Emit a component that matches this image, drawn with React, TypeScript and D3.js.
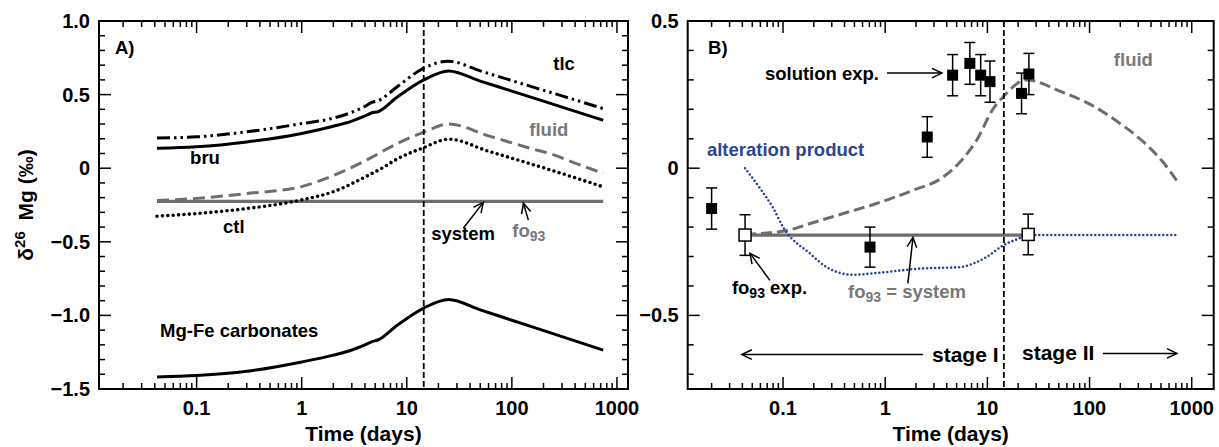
import React from "react";
import * as d3 from "d3";

const FONT = "'Liberation Sans', Arial, Helvetica, sans-serif";
const GREY = "#6e6e6e";
const GREY_TEXT = "#787878";
const BLUE = "#2b4592";

// ---------- axes ----------
const xDomainA = [0.01178, 1274];
const yDomainA = [-1.5, 1.0];
const xDomainB = [0.01167, 1641];
const yDomainB = [-0.75, 0.5];
const xTickValues = [0.1, 1, 10, 100, 1000];
const xTickLabels = ["0.1", "1", "10", "100", "1000"];
const yTicksA = [1.0, 0.5, 0, -0.5, -1.0, -1.5];
const yTickLabelsA = ["1.0", "0.5", "0", "\u22120.5", "\u22121.0", "\u22121.5"];
const yTicksB = [0.5, 0, -0.5];
const yTickLabelsB = ["0.5", "0", "\u22120.5"];
const stageBoundary = 14.5;

// ---------- panel A series (time in days, delta26Mg) ----------
const tlcT = [0.042, 0.1, 0.3, 1, 2, 3, 4, 4.6, 5.4, 8, 14.5, 25, 50, 100, 300, 740];
const tlcV = [0.205, 0.213, 0.247, 0.303, 0.34, 0.38, 0.42, 0.445, 0.46, 0.55, 0.68, 0.727, 0.661, 0.595, 0.491, 0.405];
const bruT = [0.042, 0.1, 0.3, 1, 2, 3, 4, 4.6, 5.4, 8, 14.5, 25, 50, 100, 300, 740];
const bruV = [0.135, 0.145, 0.178, 0.236, 0.285, 0.32, 0.355, 0.375, 0.385, 0.48, 0.6, 0.661, 0.592, 0.524, 0.415, 0.326];
const fluidAT = [0.042, 0.1, 0.3, 1, 2, 4, 8, 14.5, 25, 60, 150, 240, 400, 740];
const fluidAV = [-0.22, -0.205, -0.172, -0.125, -0.05, 0.05, 0.165, 0.245, 0.3, 0.22, 0.135, 0.095, 0.035, -0.035];
const ctlT = [0.042, 0.1, 0.3, 1, 2, 4, 5.8, 8, 14.5, 25, 60, 150, 400, 740];
const ctlV = [-0.326, -0.308, -0.274, -0.215, -0.16, -0.06, 0.0, 0.06, 0.14, 0.197, 0.115, 0.03, -0.065, -0.127];
const systemAT = [0.042, 740];
const systemAV = [-0.225, -0.225];
const carbT = [0.042, 0.1, 0.3, 1, 2, 3, 4, 4.6, 5.4, 8, 14.5, 25, 50, 100, 300, 740];
const carbV = [-1.418, -1.408, -1.38, -1.316, -1.27, -1.235, -1.2, -1.18, -1.165, -1.07, -0.95, -0.892, -0.962, -1.033, -1.144, -1.236];

// ---------- panel B series ----------
const fluidBT = [0.0425, 0.117, 0.184, 0.389, 0.82, 1.87, 3.7, 5.4, 7.85, 11.4, 14.3, 24.2, 51, 117, 184, 335, 525, 711];
const fluidBV = [-0.225, -0.209, -0.188, -0.154, -0.12, -0.075, -0.03, 0.021, 0.095, 0.202, 0.243, 0.3, 0.262, 0.205, 0.16, 0.09, 0.02, -0.041];
const altT = [0.0425, 0.06, 0.08, 0.1, 0.184, 0.267, 0.48, 0.82, 2.18, 5.4, 7.85, 10, 14.3, 20, 25, 711];
const altV = [0.0, -0.07, -0.135, -0.2, -0.29, -0.336, -0.362, -0.356, -0.341, -0.336, -0.319, -0.3, -0.262, -0.24, -0.227, -0.227];
const systemBT = [0.0425, 25];
const systemBV = [-0.227, -0.227];
const solT = [0.02, 0.71, 2.58, 4.57, 6.74, 8.6, 10.6, 21.6, 25.5];
const solV = [-0.137, -0.268, 0.106, 0.316, 0.356, 0.316, 0.294, 0.254, 0.32];
const solErr = [0.07, 0.068, 0.069, 0.07, 0.071, 0.07, 0.07, 0.069, 0.07];
const fo93T = [0.0425, 25.1];
const fo93V = [-0.227, -0.225];
const fo93Err = [0.069, 0.069];

const zip = (t: number[], v: number[]) => t.map((d, i) => [d, v[i]] as [number, number]);

const boxA = { left: 99, right: 628, top: 21, bottom: 389 };
const boxB = { left: 687.7, right: 1213.7, top: 21, bottom: 389 };

const xA = d3.scaleLog().domain(xDomainA).range([boxA.left, boxA.right]);
const yA = d3.scaleLinear().domain(yDomainA).range([boxA.bottom, boxA.top]);
const xB = d3.scaleLog().domain(xDomainB).range([boxB.left, boxB.right]);
const yB = d3.scaleLinear().domain(yDomainB).range([boxB.bottom, boxB.top]);

function mkLine(x: any, y: any) {
  return d3
    .line<[number, number]>()
    .x((d) => x(d[0]))
    .y((d) => y(d[1]))
    .curve(d3.curveMonotoneX);
}

function Arrow({ x1, y1, x2, y2, color = "#000" }: any) {
  const ang = Math.atan2(y2 - y1, x2 - x1);
  const L = 11, a = 0.45;
  const p1 = [x2 - L * Math.cos(ang - a), y2 - L * Math.sin(ang - a)];
  const p2 = [x2 - L * Math.cos(ang + a), y2 - L * Math.sin(ang + a)];
  return (
    <g stroke={color} strokeWidth={1.5} fill="none">
      <line x1={x1} y1={y1} x2={x2} y2={y2} />
      <polyline points={`${p1[0]},${p1[1]} ${x2},${y2} ${p2[0]},${p2[1]}`} />
    </g>
  );
}

function Axes({ x, y, box, yTicks, yLabels }: any) {
  const [d0, d1] = x.domain();
  const xt: { v: number; major: boolean }[] = [];
  for (let e = Math.floor(Math.log10(d0)); e <= Math.ceil(Math.log10(d1)); e++) {
    for (let k = 1; k <= 9; k++) {
      const v = k * Math.pow(10, e);
      if (v >= d0 && v <= d1) xt.push({ v, major: k === 1 });
    }
  }
  const [y0, y1] = y.domain();
  const yt: { v: number; major: boolean }[] = [];
  for (let i = Math.round(y0 * 10); i <= Math.round(y1 * 10); i++) {
    yt.push({ v: i / 10, major: i % 5 === 0 });
  }
  return (
    <g>
      <g stroke="#000" strokeWidth={1.5}>
        {xt.map((t, i) => {
          const px = x(t.v);
          const l = t.major ? 12 : 6;
          return (
            <g key={i}>
              <line x1={px} x2={px} y1={box.bottom} y2={box.bottom - l} />
              <line x1={px} x2={px} y1={box.top} y2={box.top + l} />
            </g>
          );
        })}
        {yt.map((t, i) => {
          const py = y(t.v);
          const l = t.major ? 12 : 6;
          return (
            <g key={i}>
              <line x1={box.left} x2={box.left + l} y1={py} y2={py} />
              <line x1={box.right} x2={box.right - l} y1={py} y2={py} />
            </g>
          );
        })}
      </g>
      <rect
        x={box.left}
        y={box.top}
        width={box.right - box.left}
        height={box.bottom - box.top}
        fill="none"
        stroke="#000"
        strokeWidth={2}
      />
      <g fontFamily={FONT} fontWeight="bold" fontSize={20} fill="#000">
        {xTickValues.map((v, i) => (
          <text key={i} x={x(v)} y={415} textAnchor="middle">
            {xTickLabels[i]}
          </text>
        ))}
        {yTicks.map((v: number, i: number) => (
          <text key={i} x={box.left - 9} y={y(v) + 7} textAnchor="end">
            {yLabels[i]}
          </text>
        ))}
        <text x={(box.left + box.right) / 2} y={441} textAnchor="middle" fontSize={21}>
          Time (days)
        </text>
      </g>
      <line
        x1={x(stageBoundary)}
        x2={x(stageBoundary)}
        y1={box.top}
        y2={box.bottom}
        stroke="#000"
        strokeWidth={1.8}
        strokeDasharray="6 3"
      />
    </g>
  );
}

function PanelA() {
  const line = mkLine(xA, yA);
  return (
    <g>
      <path d={line(zip(systemAT, systemAV))!} fill="none" stroke={GREY} strokeWidth={3.3} />
      <path d={line(zip(fluidAT, fluidAV))!} fill="none" stroke={GREY} strokeWidth={3} strokeDasharray="12 6" />
      <path
        d={line(zip(ctlT, ctlV))!}
        fill="none"
        stroke="#000"
        strokeWidth={3.6}
        strokeLinecap="round"
        strokeDasharray="0 5.4"
      />
      <path
        d={line(zip(tlcT, tlcV))!}
        fill="none"
        stroke="#000"
        strokeWidth={3}
        strokeDasharray="13 4 2.5 4 2.5 4"
      />
      <path d={line(zip(bruT, bruV))!} fill="none" stroke="#000" strokeWidth={3} />
      <path d={line(zip(carbT, carbV))!} fill="none" stroke="#000" strokeWidth={3} />
      <Axes x={xA} y={yA} box={boxA} yTicks={yTicksA} yLabels={yTickLabelsA} />
      <g fontFamily={FONT} fontWeight="bold" fontSize={18.5} fill="#000">
        <text x={xA(0.0167)} y={yA(0.775)}>A)</text>
        <text x={xA(248)} y={yA(0.666)}>tlc</text>
        <text x={xA(0.0867)} y={yA(0.027)}>bru</text>
        <text x={xA(146.6)} y={yA(0.217)} fill={GREY_TEXT}>fluid</text>
        <text x={xA(0.1786)} y={yA(-0.44)}>ctl</text>
        <text x={xA(17.1)} y={yA(-0.489)}>system</text>
        <text x={xA(101)} y={yA(-0.469)} fill={GREY_TEXT}>
          fo<tspan fontSize={14} dy={4}>93</tspan>
        </text>
        <text x={xA(0.0449)} y={yA(-1.146)}>Mg-Fe carbonates</text>
      </g>
      <Arrow x1={xA(34.5)} y1={yA(-0.408)} x2={xA(53.5)} y2={yA(-0.232)} />
      <Arrow x1={xA(143.5)} y1={yA(-0.353)} x2={xA(128.8)} y2={yA(-0.238)} />
    </g>
  );
}

function PanelB() {
  const line = mkLine(xB, yB);
  const sq = 11;
  const osq = 12;
  return (
    <g>
      <path d={line(zip(systemBT, systemBV))!} fill="none" stroke={GREY} strokeWidth={3.3} />
      <path d={line(zip(fluidBT, fluidBV))!} fill="none" stroke={GREY} strokeWidth={3} strokeDasharray="11 5" />
      <path
        d={line(zip(altT, altV))!}
        fill="none"
        stroke={BLUE}
        strokeWidth={2.6}
        strokeLinecap="round"
        strokeDasharray="0 4"
      />
      <Axes x={xB} y={yB} box={boxB} yTicks={yTicksB} yLabels={yTickLabelsB} />
      <g stroke="#000" strokeWidth={1.5}>
        {solT.map((t, i) => {
          const px = xB(t);
          const yt = yB(solV[i] + solErr[i]);
          const yb = yB(solV[i] - solErr[i]);
          return (
            <g key={i}>
              <line x1={px} x2={px} y1={yt} y2={yb} />
              <line x1={px - 5.5} x2={px + 5.5} y1={yt} y2={yt} />
              <line x1={px - 5.5} x2={px + 5.5} y1={yb} y2={yb} />
              <rect x={px - sq / 2} y={yB(solV[i]) - sq / 2} width={sq} height={sq} fill="#000" stroke="none" />
            </g>
          );
        })}
        {fo93T.map((t, i) => {
          const px = xB(t);
          const yt = yB(fo93V[i] + fo93Err[i]);
          const yb = yB(fo93V[i] - fo93Err[i]);
          return (
            <g key={i}>
              <line x1={px} x2={px} y1={yt} y2={yb} />
              <line x1={px - 5.5} x2={px + 5.5} y1={yt} y2={yt} />
              <line x1={px - 5.5} x2={px + 5.5} y1={yb} y2={yb} />
              <rect x={px - osq / 2} y={yB(fo93V[i]) - osq / 2} width={osq} height={osq} fill="#fff" />
            </g>
          );
        })}
      </g>
      <g fontFamily={FONT} fontWeight="bold" fontSize={18.5} fill="#000">
        <text x={xB(0.01845)} y={yB(0.388)}>B)</text>
        <text x={xB(0.0665)} y={yB(0.299)}>solution exp.</text>
        <text x={xB(0.018)} y={yB(0.041)} fill={BLUE}>alteration product</text>
        <text x={xB(173)} y={yB(0.347)} fill={GREY_TEXT}>fluid</text>
        <text x={xB(0.0316)} y={yB(-0.426)}>
          fo<tspan fontSize={14} dy={4}>93</tspan>
          <tspan dy={-4}> exp.</tspan>
        </text>
        <text x={xB(0.4327)} y={yB(-0.442)} fill={GREY_TEXT}>
          fo<tspan fontSize={14} dy={4}>93</tspan>
          <tspan dy={-4}> = system</tspan>
        </text>
        <text x={xB(2.87)} y={yB(-0.659)} fontSize={21}>stage I</text>
        <text x={xB(21.8)} y={yB(-0.653)} fontSize={21}>stage II</text>
      </g>
      <Arrow x1={xB(1.04)} y1={yB(0.323)} x2={xB(3.59)} y2={yB(0.323)} />
      <Arrow x1={xB(0.0744)} y1={yB(-0.381)} x2={xB(0.0475)} y2={yB(-0.289)} />
      <Arrow x1={xB(1.667)} y1={yB(-0.391)} x2={xB(1.87)} y2={yB(-0.235)} />
      <Arrow x1={xB(2.34)} y1={yB(-0.633)} x2={xB(0.0396)} y2={yB(-0.633)} />
      <Arrow x1={xB(135)} y1={yB(-0.629)} x2={xB(716)} y2={yB(-0.629)} />
    </g>
  );
}

export default function App() {
  return (
    <svg
      width={1219}
      height={447}
      viewBox="0 0 1219 447"
      style={{ position: "absolute", left: 0, top: 0, background: "#fff" }}
    >
      <rect x={0} y={0} width={1219} height={447} fill="#fff" />
      <PanelA />
      <PanelB />
      <text
        transform="translate(33,205) rotate(-90)"
        textAnchor="middle"
        fontFamily={FONT}
        fontWeight="bold"
        fontSize={21}
        fill="#000"
      >
        δ<tspan fontSize={15} dy={-8}>26</tspan>
        <tspan dy={8} dx={5}> Mg (‰)</tspan>
      </text>
    </svg>
  );
}
